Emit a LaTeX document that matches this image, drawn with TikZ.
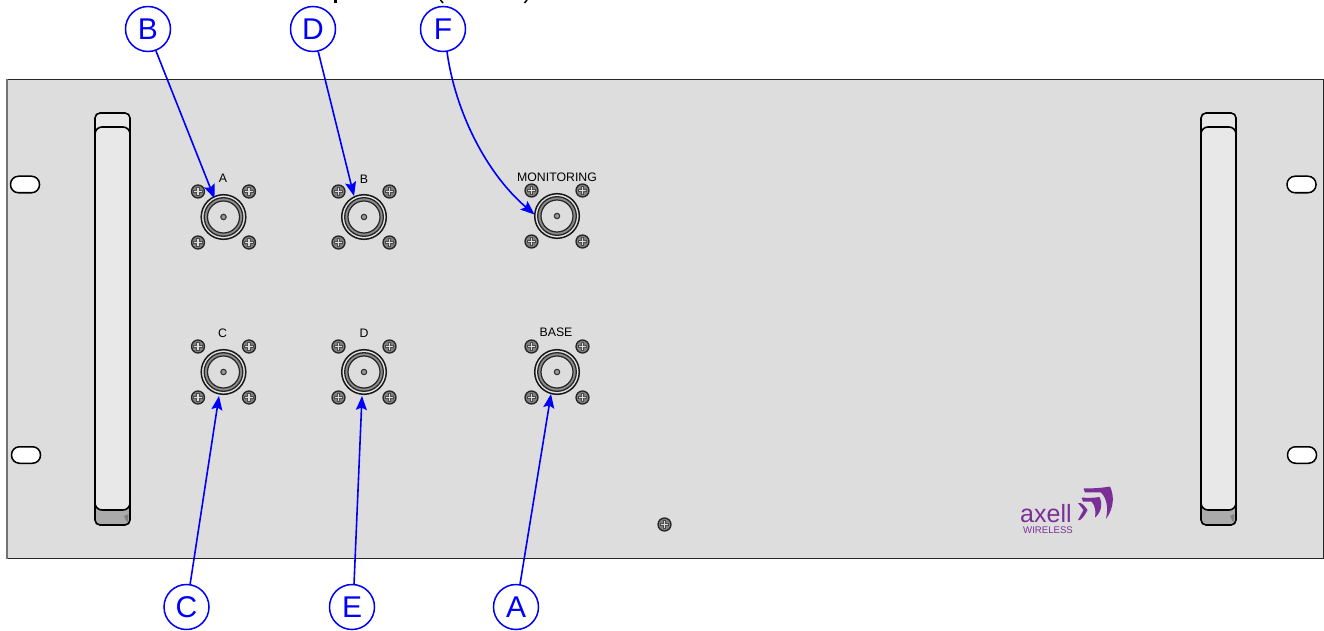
\documentclass[tikz,border=0pt]{standalone}
\usepackage{fontspec}
\setmainfont{Liberation Sans}
\usetikzlibrary{arrows.meta}
\definecolor{panel}{HTML}{DDDDDD}
\definecolor{handle}{HTML}{E8E8E8}
\definecolor{handled}{HTML}{ABABAB}
\definecolor{calloutblue}{HTML}{0000FA}
\definecolor{logo}{HTML}{7B2F96}
\tikzset{
  x=1pt,y=-1pt,
  callout/.style={circle,draw=calloutblue,line width=1.5pt,fill=white,minimum size=45pt,inner sep=0pt,text=calloutblue,font=\fontsize{30}{30}\selectfont},
  leader/.style={draw=calloutblue,line width=1.6pt,-{Stealth[length=14pt,width=11pt,inset=2.5pt]}},
  portlabel/.style={inner sep=0pt,text=black,font=\fontsize{12.3}{12.3}\selectfont},
  slot/.style={draw=black,line width=1.5pt,fill=white,rounded corners=8pt},
  handleline/.style={draw=black,line width=1.6pt},
  port/.pic={
    \draw[black!90,line width=1.5pt,fill=panel!80] (0,0) circle (22.3);
    \draw[black!85,line width=1.3pt,fill=black!45] (0,0) circle (19.3);
    \draw[black!85,line width=1.2pt,fill=panel] (0,0) circle (16);
    \draw[black!80,line width=1.1pt,fill=black!40] (0,0) circle (2.7);
  },
  screw/.pic={
    \draw[black!85,line width=1.3pt,fill=black!50] (0,0) circle (6.5);
    \fill[black!70] (-4.8,-1.7) rectangle (4.8,1.7);
    \fill[black!70] (-1.7,-4.8) rectangle (1.7,4.8);
    \fill[panel] (-3.8,-0.8) rectangle (3.8,0.8);
    \fill[panel] (-0.8,-3.8) rectangle (0.8,3.8);
  },
  portset/.pic={
    \pic at (-25.5,-25.5) {screw};
    \pic at (25.5,-25.5) {screw};
    \pic at (-25.5,25.5) {screw};
    \pic at (25.5,25.5) {screw};
    \pic at (0,0) {port};
  },
  rackhandle/.pic={
    \draw[handleline,fill=handle,rounded corners=5pt] (0,0) rectangle (35,30);
    \draw[handleline,fill=handled,rounded corners=5pt] (0,380) rectangle (35,412);
    \fill[black!50] (29,403) -- (33.5,401) -- (32.5,410) -- cycle;
    \draw[handleline,fill=handle,rounded corners=7pt] (0,14) rectangle (35,397);
  },
}
\begin{document}
\begin{tikzpicture}
\useasboundingbox (0,0) rectangle (1324,631);
\fill[white] (0,0) rectangle (1324,631);
% cropped title remnants
\fill[black] (333.5,0) rectangle (336.5,2.6);
\draw[black,line width=1.5pt] (440.5,0) .. controls (441,1.3) and (442,2.2) .. (443,3);
\draw[black,line width=1.5pt] (527,0) .. controls (526.5,1.3) and (525.5,2.2) .. (524.5,3);
% panel
\fill[panel] (7,80) rectangle (1323.5,558);
\draw[black!85,line width=1pt] (7,80) -- (1323.5,80) -- (1323.5,558) -- (7,558);
\draw[black!55,line width=1.4pt] (7,79.5) -- (7,558.5);
% slots
\node[slot,minimum width=29pt,minimum height=16.5pt,inner sep=0pt] (slotTL) at (25,184.5) {};
\node[slot,minimum width=29pt,minimum height=16.5pt,inner sep=0pt] (slotBL) at (26,455) {};
\node[slot,minimum width=29pt,minimum height=16.5pt,inner sep=0pt] (slotTR) at (1301.5,184.5) {};
\node[slot,minimum width=29pt,minimum height=16.5pt,inner sep=0pt] (slotBR) at (1302,455) {};
% handles
\pic at (95,113) {rackhandle};
\pic at (1201,113) {rackhandle};
% ports
\pic at (223.5,217) {portset};
\pic at (364,217) {portset};
\pic at (557,216) {portset};
\pic at (223.5,372) {portset};
\pic at (364,372) {portset};
\pic at (557,372) {portset};
\pic at (664.5,524.5) {screw};
% port labels
\node[portlabel] (lA) at (223,178.5) {A};
\node[portlabel] (lB) at (364,179.5) {B};
\node[portlabel] (lM) at (557,177.5) {MONITORING};
\node[portlabel] (lC) at (222.5,333.5) {C};
\node[portlabel] (lD) at (364,333.5) {D};
\node[portlabel] (lBase) at (556,332.5) {BASE};
% logo
\node[inner sep=0pt,anchor=base west,text=logo,font=\fontsize{25}{25}\selectfont] (axell) at (1020,522) {axell};
\node[inner sep=0pt,anchor=base west,text=logo,font=\fontsize{9.6}{10}\selectfont] (wl) at (1023,533) {WIRELESS};
\fill[logo] (1083.5,488.5) .. controls (1092,488.5) and (1102,488) .. (1110,486.5)
  .. controls (1114.5,496) and (1114,508) .. (1106,519)
  .. controls (1108,509) and (1107.5,499) .. (1101,492.5)
  .. controls (1095,492.5) and (1090,492) .. (1085,492.5) -- cycle;
\fill[logo] (1081.5,497.5) .. controls (1087,498) and (1094,498) .. (1099.5,497)
  .. controls (1103,504) and (1101,513) .. (1095,517.5)
  .. controls (1096,512) and (1095.5,506) .. (1091.5,501.5)
  .. controls (1088,501.5) and (1085,501.5) .. (1083,501.5) -- cycle;
\fill[logo] (1078,503) -- (1080.5,503) .. controls (1084,505) and (1085.5,507) .. (1087.5,510)
  .. controls (1085.5,514) and (1083,518) .. (1080,520) -- (1078,520) -- (1083.5,510) -- cycle;
% callouts
\node[callout] (cB) at (148,29) {B};
\node[callout] (cD) at (313,29) {D};
\node[callout] (cF) at (443,29) {F};
\node[callout] (cC) at (186.5,607) {C};
\node[callout] (cE) at (352,607) {E};
\node[callout] (cA) at (516,607) {A};
% leader targets
\coordinate (tB) at (214.5,198.5);
\coordinate (tD) at (354,196);
\coordinate (tF) at (534.5,214.5);
\coordinate (tC) at (219,396);
\coordinate (tE) at (362,396);
\coordinate (tA) at (551,394);
\path[leader] (cB.-70) -- (tB);
\path[leader] (cD.-77) -- (tD);
\path[leader] (cF.-80) .. controls (455,110) and (485,172) .. (tF);
\path[leader] (cC.81) -- (tC);
\path[leader] (cE.85) -- (tE);
\path[leader] (cA.80) -- (tA);
\end{tikzpicture}
\end{document}
